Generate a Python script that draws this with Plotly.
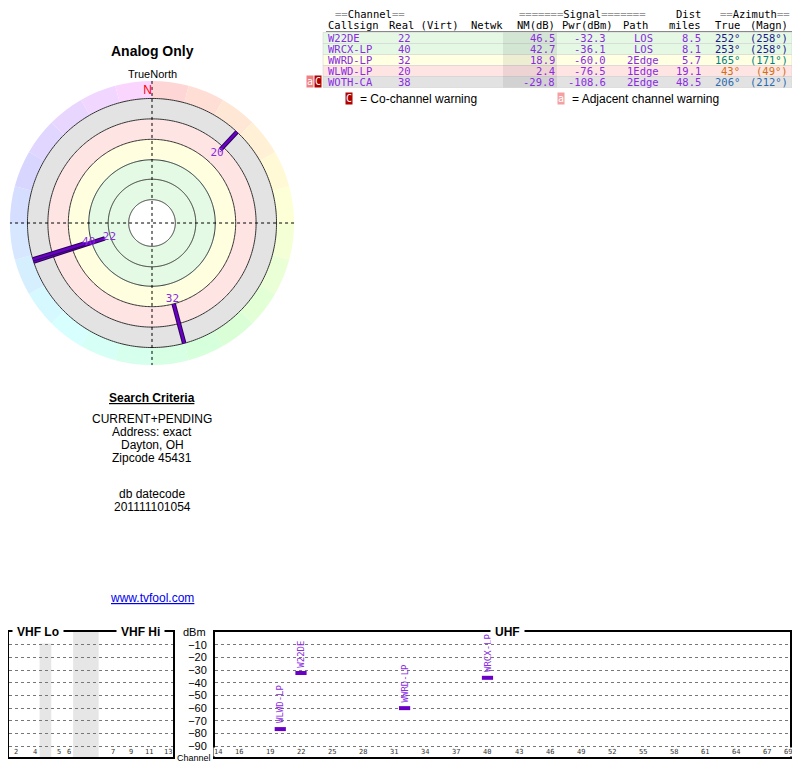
import numpy as np
import plotly.graph_objects as go

# --- station data -----------------------------------------------------------
callsigns = ["W22DE", "WRCX-LP", "WWRD-LP", "WLWD-LP", "WOTH-CA"]
channels = [22, 40, 32, 20, 38]
nm_db = [46.5, 42.7, 18.9, 2.4, -29.8]
pwr_dbm = [-32.3, -36.1, -60.0, -76.5, -108.6]
paths = ["LOS", "LOS", "2Edge", "1Edge", "2Edge"]
dist_miles = [8.5, 8.1, 5.7, 19.1, 48.5]
az_true = [252, 253, 165, 43, 206]
az_magn = [258, 258, 171, 49, 212]
row_bg = ["#e4f8e4", "#e4f8e4", "#ffffe2", "#ffe4e4", "#e2e2e2"]
az_colors = ["#1a1a8c", "#1a1a8c", "#008080", "#d07010", "#2a6ab0"]
# radar: inner end of each station's bar (radar radius units); None = not drawn
bar_start = [51, 73, 86, 103, None]

# radar rings
ring_radii = [24, 45, 65, 86, 107, 128]
band_edges = [(24, 66, "#e4fae4"), (66, 86, "#ffffe0"), (86, 107, "#ffe4e4"), (107, 128, "#e3e3e3")]

# spectrum axes
dbm_ticks = [-10, -20, -30, -40, -50, -60, -70, -80, -90]
uhf_ticks = [14, 16, 19, 22, 25, 28, 31, 34, 37, 40, 43, 46, 49, 52, 55, 58, 61, 64, 67, 69]
vhf_labels = ["2", "4", "5", "6", "7", "9", "11", "13"]
vhf_pos = [1, 3.5, 6.8, 8.2, 14.2, 16.8, 19.2, 21.8]
vhf_gaps = [(4.2, 5.8), (8.8, 12.3)]

PURPLE = "#8a2be2"
BAR = "#6a00c8"
MONO = "DejaVu Sans Mono"
SANS = "Liberation Sans"

# page has an 8px body margin, so the figure is 792x760 starting at (8, 8)
W, H = 792, 760


def PX(x):
    return (x - 8) / W


def PY(y):
    return 1 - (y - 8) / H


fig = go.Figure()

# --- radar ------------------------------------------------------------------
hues = list(range(0, 360, 15))
fig.add_trace(go.Barpolar(
    r=[18] * len(hues), base=[128] * len(hues), theta=[h + 7.5 for h in hues], width=[15] * len(hues),
    marker=dict(color=[f"hsl({int(h * 0.85)},100%,92%)" for h in hues], line=dict(width=0)),
    hoverinfo="skip", subplot="polar"))
for lo, hi, col in band_edges:
    fig.add_trace(go.Barpolar(r=[hi - lo], base=[lo], theta=[180], width=[360],
                              marker=dict(color=col, line=dict(width=0)), hoverinfo="skip", subplot="polar"))
circ = np.linspace(0, 360, 361)
for rr in ring_radii:
    fig.add_trace(go.Scatterpolar(r=[rr] * len(circ), theta=circ, mode="lines",
                                  line=dict(color="#333", width=1), hoverinfo="skip", subplot="polar"))
for t in [0, 90]:
    fig.add_trace(go.Scatterpolar(r=[146, 0, 146], theta=[t, 0, t + 180], mode="lines",
                                  line=dict(color="black", width=1, dash="dot"), hoverinfo="skip", subplot="polar"))
for i in range(len(callsigns)):
    if bar_start[i] is None:
        continue
    fig.add_trace(go.Scatterpolar(r=[bar_start[i], 128], theta=[az_true[i]] * 2, mode="lines",
                                  line=dict(color="#2a0050", width=4.5), hoverinfo="skip", subplot="polar"))
    fig.add_trace(go.Scatterpolar(r=[bar_start[i], 128], theta=[az_true[i]] * 2, mode="lines",
                                  line=dict(color=BAR, width=2.5), hoverinfo="skip", subplot="polar"))
    fig.add_trace(go.Scatterpolar(r=[bar_start[i] - 5], theta=[az_true[i]], mode="text",
                                  text=[str(channels[i])], textfont=dict(color=PURPLE, size=11, family=MONO),
                                  hoverinfo="skip", subplot="polar"))
fig.add_trace(go.Scatterpolar(r=[136], theta=[0], mode="text", text=["N"], textposition="middle left",
                              textfont=dict(color="red", size=12, family=SANS), hoverinfo="skip", subplot="polar"))

fig.update_layout(polar=dict(
    domain=dict(x=[PX(8), PX(296)], y=[PY(367), PY(79)]),
    bgcolor="white", bargap=0,
    radialaxis=dict(range=[0, 148], visible=False),
    angularaxis=dict(rotation=90, direction="clockwise", visible=False),
))

# --- spectrum ---------------------------------------------------------------
uhf = [i for i in range(len(callsigns)) if pwr_dbm[i] > -100]
fig.add_trace(go.Scatter(x=[channels[i] for i in uhf], y=[pwr_dbm[i] for i in uhf], mode="markers",
                         marker=dict(symbol="line-ew", size=8, line=dict(color=BAR, width=4)),
                         hoverinfo="skip", xaxis="x", yaxis="y"))
fig.add_trace(go.Scatter(x=[None], y=[None], xaxis="x2", yaxis="y2"))

ann = []
for i in uhf:
    ann.append(dict(x=channels[i], y=pwr_dbm[i] + 3, xref="x", yref="y", text=callsigns[i], textangle=-90,
                    yanchor="bottom", xanchor="center", showarrow=False,
                    font=dict(color=PURPLE, size=9, family=MONO)))
for t in uhf_ticks:
    ann.append(dict(x=t, y=PY(757), xref="x", yref="paper", text=str(t), showarrow=False, bgcolor="white",
                    font=dict(size=7, family=MONO, color="#333"), borderpad=0))
for lab, p in zip(vhf_labels, vhf_pos):
    ann.append(dict(x=p, y=PY(757), xref="x2", yref="paper", text=lab, showarrow=False, bgcolor="white",
                    font=dict(size=7, family=MONO, color="#333"), borderpad=0))

shapes = []
for lo, hi in vhf_gaps:
    shapes.append(dict(type="rect", xref="x2", yref="y2", x0=lo, x1=hi, y0=-100, y1=0,
                       fillcolor="#e6e6e6", line=dict(width=0), layer="below"))

grid = dict(showgrid=True, gridcolor="#777", griddash="dot", gridwidth=1, tickvals=dbm_ticks,
            range=[-98.5, 0], zeroline=False)
ydom = [PY(757), PY(632)]
fig.update_layout(
    xaxis=dict(domain=[PX(215), PX(790)], range=[13.7, 69.2], anchor="y", showgrid=False,
               zeroline=False, showticklabels=False, showline=True, linecolor="black", linewidth=2, mirror=True),
    yaxis=dict(domain=ydom, anchor="x", showticklabels=True, ticks="",
               tickfont=dict(size=11, family=SANS, color="black"), ticklabelstandoff=4,
               showline=True, linecolor="black", linewidth=2, mirror=True, **grid),
    xaxis2=dict(domain=[PX(9), PX(173)], range=[0, 22.5], anchor="y2", showgrid=False, zeroline=False,
                showticklabels=False, showline=True, linecolor="black", linewidth=2, mirror=True),
    yaxis2=dict(domain=ydom, anchor="x2", showticklabels=False, ticks="",
                showline=True, linecolor="black", linewidth=2, mirror=True, **grid),
)


def txt(x, y, s, anchor="left", color="black", size=11, family=MONO, bold=False, **kw):
    if bold:
        s = f"<b>{s}</b>"
    ann.append(dict(x=PX(x), y=PY(y), xref="paper", yref="paper", text=s, showarrow=False,
                    xanchor=anchor, yanchor="middle", font=dict(color=color, size=size, family=family), **kw))


# band titles over the box tops
txt(38, 632, "VHF Lo", "center", size=12, family=SANS, bold=True, bgcolor="white", borderpad=4)
txt(140, 632, "VHF Hi", "center", size=12, family=SANS, bold=True, bgcolor="white", borderpad=4)
txt(507, 632, "UHF", "center", size=12, family=SANS, bold=True, bgcolor="white", borderpad=4)
txt(194, 632, "dBm", "center", size=11, family=SANS)
txt(194, 758, "Channel", "center", size=9, family=SANS)

# --- left text --------------------------------------------------------------
txt(152, 51, "Analog Only", "center", size=14, family=SANS, bold=True)
txt(152, 74, "TrueNorth", "center", size=11, family=SANS)
txt(152, 398, "<u>Search Criteria</u>", "center", size=12, family=SANS, bold=True)
for k, line in enumerate(["CURRENT+PENDING", "Address: exact", "Dayton, OH", "Zipcode 45431"]):
    txt(152, 419 + 13 * k, line, "center", size=12, family=SANS)
txt(152, 494, "db datecode", "center", size=12, family=SANS)
txt(152, 507, "201111101054", "center", size=12, family=SANS)
txt(152, 598, "<u>www.tvfool.com</u>", "center", color="#0000ee", size=12, family=SANS)

# --- table ------------------------------------------------------------------
for i in range(len(callsigns)):
    y = 38 + 11 * i
    shapes.append(dict(type="rect", xref="paper", yref="paper", x0=PX(323), x1=PX(792),
                       y0=PY(y + 5.5), y1=PY(y - 5.5), fillcolor=row_bg[i],
                       line=dict(width=0.5, color="#cccccc"), layer="below"))
shapes.append(dict(type="rect", xref="paper", yref="paper", x0=PX(503), x1=PX(557),
                   y0=PY(87.5), y1=PY(32.5), fillcolor="rgba(0,0,0,0.07)", line=dict(width=0),
                   layer="below"))
shapes.append(dict(type="line", xref="paper", yref="paper", x0=PX(326), x1=PX(792),
                   y0=PY(31.5), y1=PY(31.5), line=dict(color="#888", width=1)))

TS = 10.5
txt(370, 14, "<span style='color:#999'>==</span>Channel<span style='color:#999'>==</span>", "center", size=TS)
txt(582, 14, "<span style='color:#999'>=======</span>Signal<span style='color:#999'>=======</span>", "center", size=TS)
txt(703, 14, "Dist", "right", size=TS)
txt(755, 14, "<span style='color:#999'>==</span>Azimuth<span style='color:#999'>==</span>", "center", size=TS)
txt(326, 25, "Callsign", "left", size=TS)
txt(387, 25, "Real (Virt)", "left", size=TS)
txt(469, 25, "Netwk", "left", size=TS)
txt(557, 25, "NM(dB)", "right", size=TS)
txt(615, 25, "Pwr(dBm)", "right", size=TS)
txt(650, 25, "Path", "right", size=TS)
txt(703, 25, "miles", "right", size=TS)
txt(742, 25, "True", "right", size=TS)
txt(790, 25, "(Magn)", "right", size=TS)
for i in range(len(callsigns)):
    y = 38 + 11 * i
    txt(326, y, callsigns[i], "left", color=PURPLE, size=TS)
    txt(413, y, str(channels[i]), "right", color=PURPLE, size=TS)
    txt(557, y, f"{nm_db[i]:.1f}", "right", color=PURPLE, size=TS)
    txt(608, y, f"{pwr_dbm[i]:.1f}", "right", color=PURPLE, size=TS)
    txt(643, y, paths[i], "center", color=PURPLE, size=TS)
    txt(703, y, f"{dist_miles[i]:.1f}", "right", color=PURPLE, size=TS)
    txt(742, y, f"{az_true[i]}°", "right", color=az_colors[i], size=TS)
    txt(790, y, f"({az_magn[i]}°)", "right", color=az_colors[i], size=TS)

txt(310, 82, "a", "center", color="white", size=10, bgcolor="#f08080", borderpad=0)
txt(318, 82, "C", "center", color="white", size=10, bgcolor="#b00000", borderpad=0)
txt(349, 99, "C", "center", color="white", size=10, bgcolor="#b00000", borderpad=0)
txt(358, 99, "= Co-channel warning", "left", size=12, family=SANS)
txt(561, 99, "a", "center", color="white", size=10, bgcolor="#f4a0a0", borderpad=0)
txt(570, 99, "= Adjacent channel warning", "left", size=12, family=SANS)

fig.update_layout(width=W, height=H, margin=dict(l=0, r=0, t=0, b=0), showlegend=False,
                  plot_bgcolor="white", paper_bgcolor="white", annotations=ann, shapes=shapes)
fig.write_html("out.html")
